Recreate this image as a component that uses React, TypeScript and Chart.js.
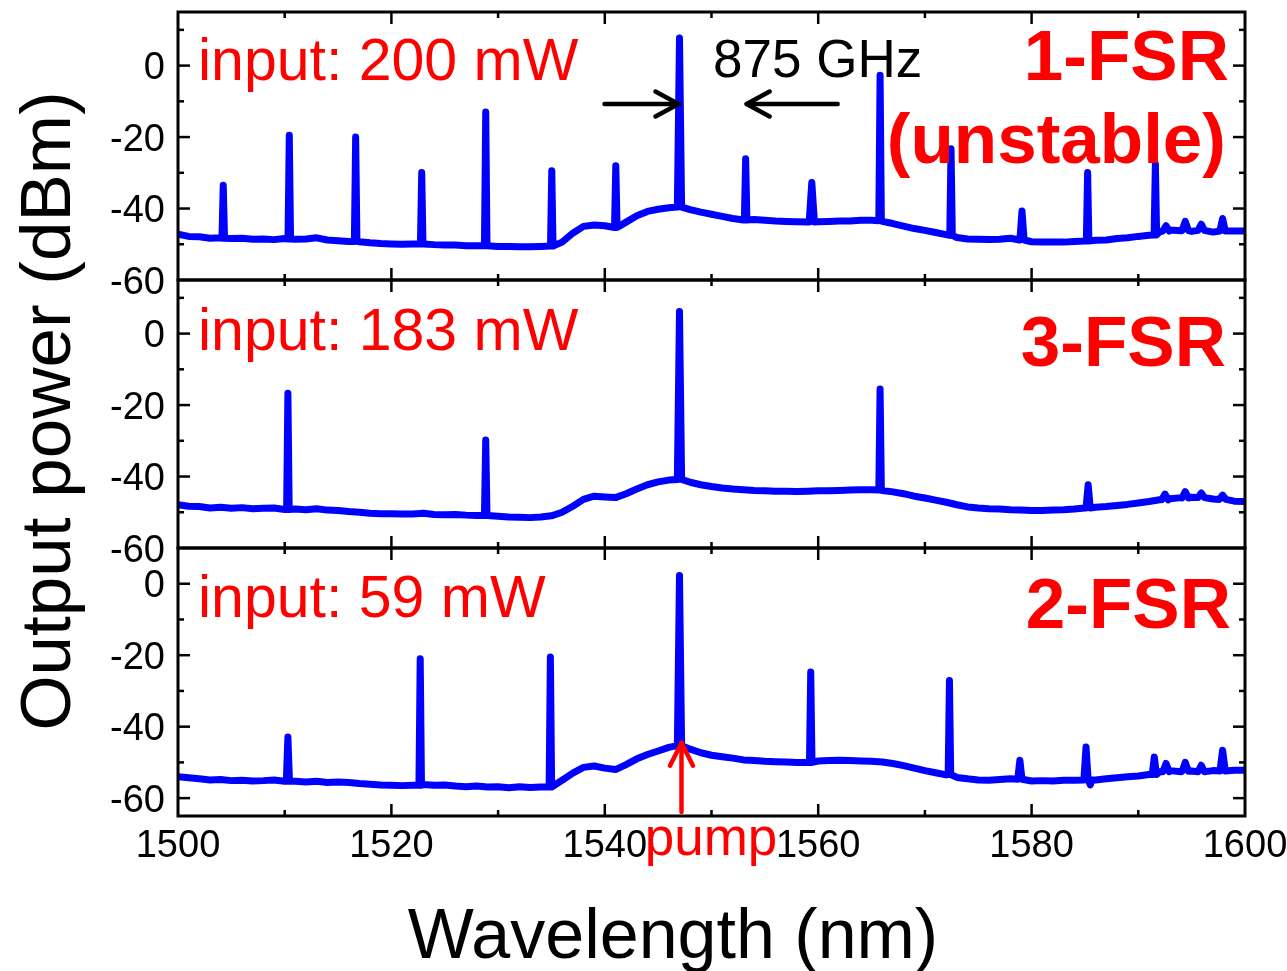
import React, { useEffect, useRef } from "react";
import { Chart, registerables } from "chart.js";

Chart.register(...registerables);

const W = 1287;
const H = 971;
const FONT = '"Liberation Sans", Arial, Helvetica, sans-serif';
const BLUE = "#0000ff";
const RED = "#ff0000";

// Sampling grid of the spectrum analyser trace (nm)
const sampleNm = [
  1500, 1501, 1502, 1503, 1504, 1505, 1506, 1507, 1508, 1509,
  1510, 1511, 1512, 1513, 1514, 1515, 1516, 1517, 1518, 1519,
  1520, 1521, 1522, 1523, 1524, 1525, 1526, 1527, 1528, 1529,
  1530, 1531, 1532, 1533, 1534, 1535, 1536, 1537, 1538, 1539,
  1540, 1541, 1542, 1543, 1544, 1545, 1546, 1547, 1548, 1549,
  1550, 1551, 1552, 1553, 1554, 1555, 1556, 1557, 1558, 1559,
  1560, 1561, 1562, 1563, 1564, 1565, 1566, 1567, 1568, 1569,
  1570, 1571, 1572, 1573, 1574, 1575, 1576, 1577, 1578, 1579,
  1580, 1581, 1582, 1583, 1584, 1585, 1586, 1587, 1588, 1589,
  1590, 1591, 1592, 1593, 1594, 1595, 1596, 1597, 1598, 1599,
  1600,
];

// Noise floor / ASE background (dBm) for each pump power
const baseline200mW = [
  -47.2, -47.8, -47.9, -48.3, -48.2, -48.4, -48.3, -48.6, -48.5, -48.7,
  -48.4, -48.6, -48.5, -48.2, -48.8, -49.0, -49.2, -49.3, -49.6, -49.8,
  -49.9, -50.0, -49.9, -49.8, -50.1, -50.2, -50.2, -50.4, -50.4, -50.3,
  -50.6, -50.6, -50.7, -50.7, -50.6, -50.4, -49.4, -46.9, -45.0, -44.6,
  -44.8, -45.2, -43.8, -42.0, -40.8, -40.2, -39.8, -39.4, -40.3, -41.0,
  -41.6, -42.2, -42.8, -43.2, -43.1, -43.3, -43.5, -43.6, -43.7, -43.8,
  -43.7, -43.6, -43.5, -43.5, -43.3, -43.3, -43.6, -44.2, -44.9, -45.6,
  -46.1, -46.7, -47.3, -48.1, -48.5, -48.6, -48.7, -48.6, -48.3, -48.9,
  -49.3, -49.4, -49.4, -49.4, -49.2, -49.1, -48.9, -48.8, -48.4, -48.2,
  -47.8, -47.5, -46.5, -46.0, -46.2, -46.4, -45.8, -46.6, -46.0, -46.3,
  -46.3,
];

const baseline183mW = [
  -47.9, -48.3, -48.4, -48.8, -48.6, -48.9, -48.7, -49.0, -48.9, -48.8,
  -49.2, -49.1, -49.3, -49.0, -49.4, -49.5, -49.8, -50.0, -50.3, -50.4,
  -50.4, -50.5, -50.5, -50.3, -50.6, -50.7, -50.6, -50.8, -50.9, -50.9,
  -51.1, -51.3, -51.4, -51.5, -51.3, -51.0, -50.0, -48.3, -46.4, -45.5,
  -45.7, -45.9, -44.8, -43.5, -42.3, -41.5, -41.0, -40.6, -41.6, -42.3,
  -42.8, -43.2, -43.5, -43.7, -43.9, -44.0, -44.1, -44.1, -44.2, -44.1,
  -44.0, -44.0, -43.9, -43.8, -43.7, -43.7, -43.9, -44.3, -44.8, -45.5,
  -46.0, -46.6, -47.2, -47.9, -48.5, -48.8, -49.0, -49.1, -49.3, -49.4,
  -49.5, -49.5, -49.4, -49.3, -49.1, -48.8, -48.6, -48.4, -48.1, -47.8,
  -47.4, -47.0, -46.5, -46.2, -45.9, -45.8, -45.9, -46.3, -46.6, -46.9,
  -47.0,
];

const baseline59mW = [
  -54.0, -54.3, -54.6, -54.9, -54.8, -55.1, -55.0, -55.2, -55.1, -54.9,
  -55.3, -55.3, -55.5, -55.3, -55.6, -55.5, -55.6, -55.9, -56.1, -56.3,
  -56.4, -56.5, -56.4, -56.2, -56.4, -56.3, -56.6, -56.8, -56.6, -56.9,
  -56.8, -57.1, -56.8, -57.0, -56.9, -56.5, -55.0, -53.0, -51.4, -51.0,
  -51.6, -52.0, -50.6, -49.0, -47.8, -46.8, -45.8, -45.1, -46.3, -47.3,
  -48.0, -48.4, -48.8, -49.3, -49.5, -49.7, -49.8, -49.9, -50.0, -50.0,
  -49.6, -49.5, -49.4, -49.5, -49.6, -49.7, -49.9, -50.3, -50.9, -51.6,
  -52.3, -52.9, -53.5, -54.2, -54.6, -54.9, -55.0, -54.8, -54.6, -55.0,
  -55.2, -55.1, -55.2, -55.0, -55.0, -54.9, -54.9, -54.6, -54.3, -54.0,
  -53.8, -53.4, -52.6, -52.3, -52.6, -52.4, -52.8, -52.3, -52.4, -52.2,
  -52.2,
];

// Comb lines: [centre nm, peak dBm, foot dBm, half width nm]
type CombLine = [number, number, number, number];

const lines200mW: CombLine[] = [
  [1504.24, -33.5, -48.3, 0.12],
  [1510.43, -19.5, -48.5, 0.12],
  [1516.65, -20.0, -49.2, 0.12],
  [1522.84, -29.9, -49.9, 0.12],
  [1528.84, -13.0, -50.4, 0.12],
  [1535.03, -29.4, -50.5, 0.12],
  [1541.03, -28.0, -45.3, 0.12],
  [1547.0, 7.7, -39.6, 0.2],
  [1553.2, -26.1, -43.2, 0.12],
  [1559.4, -32.7, -43.8, 0.25],
  [1565.8, -2.7, -43.4, 0.12],
  [1572.45, -23.3, -47.5, 0.12],
  [1579.1, -40.7, -48.8, 0.2],
  [1585.25, -29.9, -49.1, 0.12],
  [1591.6, -27.5, -47.4, 0.12],
  [1592.6, -44.8, -46.3, 0.3],
  [1594.4, -43.6, -46.2, 0.3],
  [1595.9, -44.4, -46.1, 0.3],
  [1597.9, -42.8, -46.3, 0.25],
];

const lines183mW: CombLine[] = [
  [1510.3, -16.7, -49.2, 0.12],
  [1528.84, -29.8, -50.9, 0.12],
  [1547.0, 6.2, -40.8, 0.2],
  [1565.8, -15.5, -43.8, 0.12],
  [1585.3, -42.3, -48.8, 0.2],
  [1592.5, -44.9, -46.5, 0.3],
  [1594.4, -44.2, -46.0, 0.3],
  [1595.9, -44.6, -45.9, 0.3],
  [1597.9, -45.2, -46.4, 0.3],
];

const lines59mW: CombLine[] = [
  [1510.3, -42.9, -55.3, 0.15],
  [1522.7, -21.0, -56.4, 0.12],
  [1534.9, -20.5, -56.9, 0.12],
  [1547.0, 2.3, -45.3, 0.2],
  [1559.3, -24.7, -50.0, 0.12],
  [1572.3, -27.1, -53.4, 0.12],
  [1578.9, -49.4, -54.7, 0.2],
  [1585.1, -45.7, -54.9, 0.2],
  [1585.5, -56.3, -54.9, 0.15],
  [1591.5, -48.5, -53.4, 0.2],
  [1592.6, -50.3, -52.6, 0.3],
  [1594.4, -50.0, -52.5, 0.3],
  [1595.9, -50.8, -52.6, 0.3],
  [1597.9, -46.6, -52.4, 0.25],
];

const xLabelValues = [1500, 1520, 1540, 1560, 1580, 1600];
const yLabelValues = [0, -20, -40, -60];

const pumpNm = 1547.0;
const firstSidebandNm = 1553.2;

type PanelSpec = {
  id: string;
  top: number;
  bottom: number;
  yMin: number;
  yMax: number;
  baseline: number[];
  lines: CombLine[];
  inputLabel: string;
  inputBaseline: number;
  stateLabels: { text: string; right: number; baseline: number }[];
};

const LEFT = 178;
const RIGHT = 1245;

const panels: PanelSpec[] = [
  {
    id: "p200",
    top: 12,
    bottom: 280,
    yMin: -60,
    yMax: 15,
    baseline: baseline200mW,
    lines: lines200mW,
    inputLabel: "input: 200 mW",
    inputBaseline: 80,
    stateLabels: [
      { text: "1-FSR", right: 1229, baseline: 80 },
      { text: "(unstable)", right: 1226, baseline: 163 },
    ],
  },
  {
    id: "p183",
    top: 280,
    bottom: 548,
    yMin: -60,
    yMax: 15,
    baseline: baseline183mW,
    lines: lines183mW,
    inputLabel: "input: 183 mW",
    inputBaseline: 350,
    stateLabels: [{ text: "3-FSR", right: 1226, baseline: 366 }],
  },
  {
    id: "p59",
    top: 548,
    bottom: 816,
    yMin: -65,
    yMax: 10,
    baseline: baseline59mW,
    lines: lines59mW,
    inputLabel: "input: 59 mW",
    inputBaseline: 617,
    stateLabels: [{ text: "2-FSR", right: 1231, baseline: 628 }],
  },
];

function buildTrace(baseline: number[], lines: CombLine[]) {
  const pts = sampleNm
    .map((x, i) => ({ x, y: baseline[i] }))
    .filter((p) => !lines.some(([c, , , hw]) => Math.abs(p.x - c) <= hw + 0.05));
  for (const [c, top, foot, hw] of lines) {
    pts.push({ x: c - hw, y: foot }, { x: c, y: top }, { x: c + hw, y: foot });
  }
  pts.sort((a, b) => a.x - b.x);
  return pts;
}

function seg(ctx: CanvasRenderingContext2D, x1: number, y1: number, x2: number, y2: number) {
  ctx.beginPath();
  ctx.moveTo(x1, y1);
  ctx.lineTo(x2, y2);
  ctx.stroke();
}

function arrowHead(
  ctx: CanvasRenderingContext2D,
  tipX: number,
  tipY: number,
  dx: number,
  dy: number,
  len: number,
  spread: number
) {
  // dx,dy: unit direction the arrow points to
  const bx = tipX - dx * len;
  const by = tipY - dy * len;
  ctx.beginPath();
  ctx.moveTo(bx - dy * spread, by + dx * spread);
  ctx.lineTo(tipX, tipY);
  ctx.lineTo(bx + dy * spread, by - dx * spread);
  ctx.stroke();
}

function panelPlugin(spec: PanelSpec, index: number) {
  return {
    id: "panelFrame" + index,
    afterDraw(chart: any) {
      const ctx: CanvasRenderingContext2D = chart.ctx;
      const xs = chart.scales.x;
      const ys = chart.scales.y;
      const { left, right, top, bottom } = chart.chartArea;
      ctx.save();

      // frame
      ctx.strokeStyle = "#000";
      ctx.lineWidth = 3;
      ctx.lineCap = "butt";
      ctx.strokeRect(left, top, right - left, bottom - top);

      // inward ticks on all four sides
      ctx.lineWidth = 2.5;
      for (let v = 1510; v < 1600; v += 10) {
        const px = xs.getPixelForValue(v);
        const len = v % 20 === 0 ? 12 : 6;
        seg(ctx, px, top, px, top + len);
        seg(ctx, px, bottom, px, bottom - len);
      }
      for (let v = Math.ceil(spec.yMin / 10) * 10; v <= spec.yMax; v += 10) {
        const py = ys.getPixelForValue(v);
        if (Math.abs(py - top) < 3 || Math.abs(py - bottom) < 3) continue;
        const len = v % 20 === 0 ? 12 : 6;
        seg(ctx, left, py, left + len, py);
        seg(ctx, right, py, right - len, py);
      }

      // y tick labels
      ctx.fillStyle = "#000";
      ctx.font = `38px ${FONT}`;
      ctx.textAlign = "right";
      ctx.textBaseline = "alphabetic";
      for (const v of yLabelValues) {
        const py = ys.getPixelForValue(v);
        ctx.fillText(String(v), 165, py + 13.5);
      }

      // pump power label
      ctx.fillStyle = RED;
      ctx.textAlign = "left";
      ctx.font = `59px ${FONT}`;
      ctx.fillText(spec.inputLabel, 198, spec.inputBaseline);

      // oscillation state label
      ctx.font = `bold 71px ${FONT}`;
      ctx.textAlign = "right";
      for (const s of spec.stateLabels) ctx.fillText(s.text, s.right, s.baseline);

      if (index === 0) {
        // FSR spacing marker between pump and first sideband
        const pumpX = xs.getPixelForValue(pumpNm);
        const sideX = xs.getPixelForValue(firstSidebandNm);
        const ay = 104;
        ctx.strokeStyle = "#000";
        ctx.lineWidth = 4.5;
        ctx.lineCap = "round";
        ctx.lineJoin = "round";
        seg(ctx, pumpX - 75, ay, pumpX - 1, ay);
        arrowHead(ctx, pumpX - 1, ay, 1, 0, 23, 12.5);
        seg(ctx, sideX + 92, ay, sideX + 1, ay);
        arrowHead(ctx, sideX + 1, ay, -1, 0, 23, 12.5);
        ctx.fillStyle = "#000";
        ctx.font = `53px ${FONT}`;
        ctx.textAlign = "left";
        ctx.fillText("875 GHz", 713, 77);
      }

      if (index === 2) {
        // x tick labels
        ctx.fillStyle = "#000";
        ctx.font = `38px ${FONT}`;
        ctx.textAlign = "center";
        for (const v of xLabelValues) {
          ctx.fillText(String(v), xs.getPixelForValue(v), 857);
        }

        // pump marker
        const px = xs.getPixelForValue(pumpNm) + 2;
        const tipY = ys.getPixelForValue(-44.5);
        ctx.strokeStyle = RED;
        ctx.lineWidth = 4.5;
        ctx.lineCap = "round";
        ctx.lineJoin = "round";
        seg(ctx, px, bottom - 4, px, tipY + 1);
        arrowHead(ctx, px, tipY, 0, -1, 23, 11.5);
        ctx.fillStyle = RED;
        ctx.font = `53px ${FONT}`;
        ctx.textAlign = "center";
        ctx.fillText("pump", 711, 855);

        // axis titles
        ctx.fillStyle = "#000";
        ctx.font = `70px ${FONT}`;
        ctx.textAlign = "center";
        ctx.fillText("Wavelength (nm)", 673, 958);

        ctx.save();
        ctx.translate(70, 411);
        ctx.rotate(-Math.PI / 2);
        ctx.font = `71px ${FONT}`;
        ctx.fillText("Output power (dBm)", 0, 0);
        ctx.restore();
      }

      ctx.restore();
    },
  };
}

export default function App() {
  const ref0 = useRef<HTMLCanvasElement>(null);
  const ref1 = useRef<HTMLCanvasElement>(null);
  const ref2 = useRef<HTMLCanvasElement>(null);
  const refs = [ref0, ref1, ref2];

  useEffect(() => {
    const charts = panels.map((spec, i) => {
      const canvas = refs[i].current as HTMLCanvasElement;
      return new Chart(canvas, {
        type: "line",
        data: {
          datasets: [
            {
              label: spec.inputLabel,
              data: buildTrace(spec.baseline, spec.lines),
              borderColor: BLUE,
              backgroundColor: BLUE,
              borderWidth: 7,
              pointRadius: 0,
              tension: 0,
              fill: false,
              borderJoinStyle: "round",
              borderCapStyle: "round",
            } as any,
          ],
        },
        options: {
          responsive: false,
          maintainAspectRatio: false,
          animation: false,
          devicePixelRatio: 1,
          events: [],
          layout: {
            padding: {
              left: LEFT,
              right: W - RIGHT,
              top: spec.top,
              bottom: H - spec.bottom,
            },
          },
          plugins: {
            legend: { display: false },
            tooltip: { enabled: false },
            title: { display: false },
          },
          scales: {
            x: { type: "linear", min: 1500, max: 1600, display: false },
            y: { type: "linear", min: spec.yMin, max: spec.yMax, display: false },
          },
        },
        plugins: [panelPlugin(spec, i)],
      });
    });
    return () => charts.forEach((c) => c.destroy());
  }, []);

  return (
    <div
      style={{
        position: "fixed",
        left: 0,
        top: 0,
        width: W,
        height: H,
        background: "#ffffff",
        overflow: "hidden",
      }}
    >
      {panels.map((spec, i) => (
        <canvas
          key={spec.id}
          ref={refs[i]}
          width={W}
          height={H}
          style={{ position: "absolute", left: 0, top: 0, width: W, height: H, display: "block" }}
        />
      ))}
    </div>
  );
}
